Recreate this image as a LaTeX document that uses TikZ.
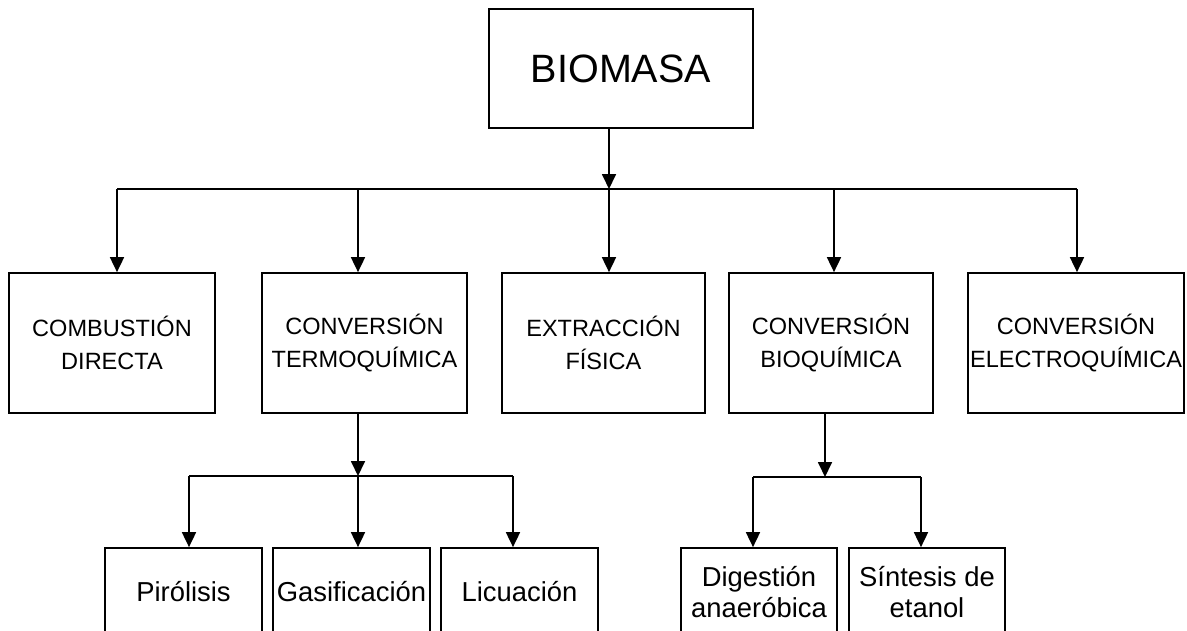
\documentclass[tikz,border=0pt]{standalone}
\usepackage{fontspec}
\setmainfont{Liberation Sans}
\usetikzlibrary{arrows.meta,positioning}
\tikzset{>={Triangle[length=0.3cm,width=0.28cm]},
  caja/.style={draw,line width=1pt,inner sep=0pt,align=center},
  fila/.style={caja,minimum height=2.8cm,font=\fontsize{13.4}{18.8}\selectfont},
  sub/.style={caja,minimum height=1.76cm,minimum width=3.14cm,font=\fontsize{15.6}{17.6}\selectfont},
  linea/.style={line width=1pt}}

\begin{document}
\begin{tikzpicture}[x=0.02cm,y=-0.02cm]

    \useasboundingbox (0,0) rectangle (1187,630);
    \clip (0,0) rectangle (1187,630);

	\node[caja,minimum width=5.28cm,minimum height=2.38cm,font=\fontsize{22.5}{27}\selectfont] (bio) at (621,68.5) {BIOMASA};

	\node[fila,minimum width=4.12cm] (comb) at (112,343) {COMBUSTIÓN\\DIRECTA};
	\node[fila,minimum width=4.1cm] (termo) at (364.5,343) {CONVERSIÓN\\TERMOQUÍMICA};
	\node[fila,minimum width=4.06cm] (extr) at (603.5,343) {EXTRACCIÓN\\FÍSICA};
	\node[fila,minimum width=4.08cm] (bioq) at (831,343) {CONVERSIÓN\\BIOQUÍMICA};
	\node[fila,minimum width=4.32cm] (elec) at (1076,343) {CONVERSIÓN\\ELECTROQUÍMICA};

	\node[sub] (piro) at (183.5,592) {Pirólisis};
	\node[sub] (gasi) at (351.5,592) {Gasificación};
	\node[sub] (licu) at (519.5,592) {Licuación};
	\node[sub,minimum width=3.12cm] (dige) at (759,592) {Digestión\\anaeróbica};
	\node[sub,minimum width=3.12cm] (sint) at (927,592) {Síntesis de\\etanol};


    \coordinate (b1) at (117,189);
    \coordinate (b2) at (358,189);
    \coordinate (b3) at (609,189);
    \coordinate (b4) at (834,189);
    \coordinate (b5) at (1077,189);

    \coordinate (t1) at (189,476);
    \coordinate (t2) at (358,476);
    \coordinate (t3) at (513,476);

    \coordinate (c1) at (753,477);
    \coordinate (c2) at (825,477);
    \coordinate (c3) at (921,477);


	\draw [linea,->] (bio.south -| b3) -- (b3);
	\draw [linea] (b1) -- (b5);
	\draw [linea,->] (b1) -- (b1 |- comb.north);
	\draw [linea,->] (b2) -- (b2 |- termo.north);
	\draw [linea,->] (b3) -- (b3 |- extr.north);
	\draw [linea,->] (b4) -- (b4 |- bioq.north);
	\draw [linea,->] (b5) -- (b5 |- elec.north);

	\draw [linea,->] (termo.south -| t2) -- (t2);
	\draw [linea] (t1) -- (t3);
	\draw [linea,->] (t1) -- (t1 |- piro.north);
	\draw [linea,->] (t2) -- (t2 |- gasi.north);
	\draw [linea,->] (t3) -- (t3 |- licu.north);

	\draw [linea,->] (bioq.south -| c2) -- (c2);
	\draw [linea] (c1) -- (c3);
	\draw [linea,->] (c1) -- (c1 |- dige.north);
	\draw [linea,->] (c3) -- (c3 |- sint.north);


\end{tikzpicture}
\end{document}
